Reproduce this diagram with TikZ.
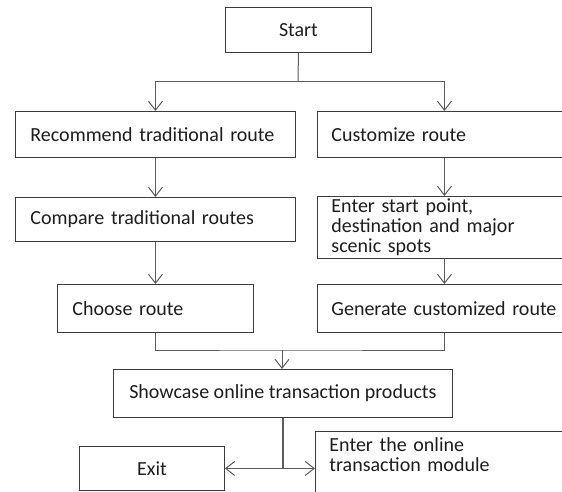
\documentclass[tikz,border=0pt]{standalone}
\usepackage{fontspec}
\setmainfont{Carlito}
\usepackage{xcolor}
\usetikzlibrary{arrows.meta,positioning,calc}
\definecolor{boxline}{HTML}{3C3C3C}
\definecolor{linkgray}{HTML}{5C5C5C}
\definecolor{ink}{HTML}{1E1E1E}
\tikzset{
  flowbox/.style={draw=boxline,fill=white,line width=0.9pt,anchor=north west,
                  align=left,inner xsep=15pt,inner ysep=0pt,text=ink,
                  font=\fontsize{20}{20}\selectfont},
  sidebox/.style={flowbox,inner xsep=14pt,minimum width=254,text width=226},
  midbox/.style={flowbox,align=center,inner xsep=0pt},
  linkline/.style={draw=linkgray,line width=1pt},
  linkarr/.style={linkline,-{Straight Barb[length=9pt,width=14pt]}},
  trunk/.style={draw=linkgray,line width=2pt}
}
\begin{document}
\begin{tikzpicture}[x=1pt,y=-1pt]
    \useasboundingbox (0,0) rectangle (562,491);
    \clip (0,0) rectangle (562,491);

    \node[midbox,minimum width=146,minimum height=45] (start) at (225,7) {Start};

    \node[flowbox,minimum width=280,minimum height=46,text width=250] (rec) at (15,111)
      {Recommend traditional route};
    \node[sidebox,minimum height=46] (cust) at (317,111)
      {Customize route};

    \node[flowbox,minimum width=280,minimum height=44,text width=250] (comp) at (15,197)
      {Compare traditional routes};
    \node[sidebox,minimum height=62] (enter) at (317,196)
      {Enter start point,\\ destination and major\\ scenic spots};

    \node[flowbox,minimum width=196,minimum height=48,text width=166] (choose) at (57,284)
      {Choose route};
    \node[sidebox,minimum height=48] (gen) at (317,284)
      {Generate customized route};

    \node[midbox,minimum width=339,minimum height=48] (show) at (113,369)
      {Showcase online transaction products};

    \node[midbox,minimum width=145,minimum height=44] (exit) at (79,446) {Exit};
    \node[sidebox,inner ysep=6pt,text depth=45pt] (online) at (315,431)
      {Enter the online\\ transaction module};

    % connectors
    \coordinate (split) at (298,81);
    \draw[linkline] (start.south) -- (split);
    \draw[linkarr] (split) -| (rec.north);
    \draw[linkarr] (split) -| (cust.north);
    \draw[linkarr] (rec.south) -- (comp.north);
    \draw[linkarr] (comp.south) -- (choose.north);
    \draw[linkarr] (cust.south) -- (enter.north);
    \draw[linkarr] (enter.south) -- (gen.north);

    \coordinate (merge) at (282,350);
    \draw[linkline] (choose.south) |- (merge) -| (gen.south);
    \draw[linkarr] (merge) -- (merge |- show.north);

    \coordinate (fork) at (show.south |- exit.east);
    \draw[trunk] (show.south) -- (fork);
    \draw[linkarr] (fork) -- (exit.east);
    \draw[linkarr] (fork) -- (fork -| online.west);
\end{tikzpicture}
\end{document}
